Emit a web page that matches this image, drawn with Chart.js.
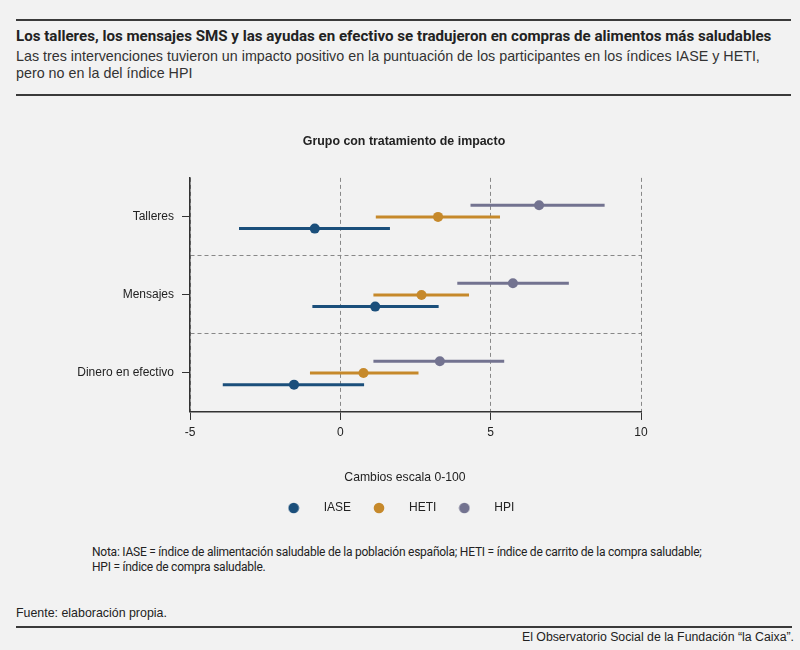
<!DOCTYPE html>
<html>
<head>
<meta charset="utf-8">
<script src="https://cdn.jsdelivr.net/npm/chart.js@4/dist/chart.umd.min.js"></script>
<style>
  html, body { margin:0; padding:0; background:#f2f2f2; }
  body { width:800px; height:650px; position:relative; overflow:hidden; font-family:"Liberation Sans", Arial, sans-serif; color:#222; }
  .rule { position:absolute; left:16px; width:775px; height:2px; background:#3a3a3a; }
  #title { position:absolute; left:16px; top:27px; font-family:Roboto,"Liberation Sans",sans-serif; font-weight:bold; font-size:14px; line-height:18px; white-space:nowrap; color:#222; transform-origin:0 0; }
  #subtitle { position:absolute; left:16px; top:48px; font-size:14.3px; line-height:17px; color:#333; white-space:nowrap; }
  #wrap { position:absolute; left:0; top:100px; width:800px; height:430px; }
  #note { position:absolute; left:92px; top:545px; font-family:Roboto,"Liberation Sans",sans-serif; font-size:12px; letter-spacing:-0.24px; line-height:15px; color:#222; white-space:nowrap; }
  #source { position:absolute; left:16px; top:606px; font-size:12.4px; color:#222; }
  #credit { position:absolute; right:6px; top:630px; font-size:12.3px; color:#222; }
</style>
</head>
<body>
<div class="rule" style="top:19px"></div>
<div id="title">Los talleres, los mensajes SMS y las ayudas en efectivo se tradujeron en compras de alimentos más saludables</div>
<div id="subtitle">Las tres intervenciones tuvieron un impacto positivo en la puntuación de los participantes en los índices IASE y HETI,<br>pero no en la del índice HPI</div>
<div class="rule" style="top:94px"></div>
<div id="wrap"><canvas id="c"></canvas></div>
<div id="note">Nota: IASE = índice de alimentación saludable de la población española; HETI = índice de carrito de la compra saludable;<br>HPI = índice de compra saludable.</div>
<div id="source">Fuente: elaboración propia.</div>
<div class="rule" style="top:626px; width:776px"></div>
<div id="credit">El Observatorio Social de la Fundación “la Caixa”.</div>
<script>
// ---- Data ----
const categories = ['Talleres', 'Mensajes', 'Dinero en efectivo'];
const seriesNames = ['IASE', 'HETI', 'HPI'];
const iaseEst  = [-0.85, 1.16, -1.54];
const iaseLow  = [-3.37, -0.93, -3.91];
const iaseHigh = [1.65, 3.27, 0.79];
const hetiEst  = [3.25, 2.70, 0.77];
const hetiLow  = [1.18, 1.10, -1.01];
const hetiHigh = [5.31, 4.28, 2.60];
const hpiEst   = [6.61, 5.74, 3.31];
const hpiLow   = [4.33, 3.89, 1.10];
const hpiHigh  = [8.79, 7.60, 5.45];
const xTickValues = [-5, 0, 5, 10];

// fit the condensed headline to the reference width
(function () {
  const t = document.getElementById('title');
  const w = t.scrollWidth;
  if (w > 0) t.style.transform = 'scaleX(' + (755 / w) + ')';
})();

// ---- Styles ----
const colors = ['#1b4f7b', '#c6892b', '#737390'];
const rowOffsets = [0.15, 0, -0.15];
const FONT = '"Liberation Sans", Arial, sans-serif';

const ests = [iaseEst, hetiEst, hpiEst];
const lows = [iaseLow, hetiLow, hpiLow];
const highs = [iaseHigh, hetiHigh, hpiHigh];

const datasets = seriesNames.map((name, s) => ({
  label: name,
  data: categories.map((c, i) => ({ x: ests[s][i], y: i + rowOffsets[s] })),
  low: lows[s],
  high: highs[s],
  backgroundColor: colors[s],
  borderColor: colors[s],
  pointRadius: 5,
  pointHoverRadius: 5,
  pointBorderWidth: 0,
  showLine: false
}));

function dotImage(color) {
  const cv = document.createElement('canvas');
  cv.width = 12; cv.height = 12;
  const g = cv.getContext('2d');
  g.fillStyle = color;
  g.beginPath(); g.arc(6, 6, 5.3, 0, Math.PI * 2); g.fill();
  return cv;
}

const errorBars = {
  id: 'errorBars',
  beforeDatasetsDraw(chart) {
    const { ctx, scales: { x, y } } = chart;
    chart.data.datasets.forEach((ds) => {
      ctx.save();
      ctx.strokeStyle = ds.borderColor;
      ctx.lineWidth = 3;
      ctx.lineCap = 'butt';
      ds.data.forEach((p, i) => {
        const py = y.getPixelForValue(p.y);
        ctx.beginPath();
        ctx.moveTo(x.getPixelForValue(ds.low[i]), py);
        ctx.lineTo(x.getPixelForValue(ds.high[i]), py);
        ctx.stroke();
      });
      ctx.restore();
    });
  }
};

// small horizontal nudges of the centred boxes
const nudge = {
  id: 'nudge',
  afterLayout(chart) {
    chart.boxes.forEach(b => {
      let dx = 0;
      if (b === chart.legend) dx = -8;
      else if (b.options && b.options.text === 'Grupo con tratamiento de impacto') dx = 4;
      else if (b.options && b.options.text === 'Cambios escala 0-100') dx = 5;
      if (dx) { b.left += dx; b.right += dx; }
    });
  }
};

new Chart(document.getElementById('c'), {
  type: 'scatter',
  data: { datasets },
  plugins: [errorBars, nudge],
  options: {
    responsive: true,
    maintainAspectRatio: false,
    animation: false,
    layout: { padding: { left: 0, right: 0, top: 0, bottom: 6 } },
    plugins: {
      tooltip: { enabled: false },
      title: {
        display: true,
        text: 'Grupo con tratamiento de impacto',
        color: '#222',
        font: { family: FONT, size: 12.4, weight: 'bold' },
        padding: { top: 34, bottom: 29 }
      },
      subtitle: {
        display: true,
        position: 'bottom',
        weight: 500,
        text: 'Cambios escala 0-100',
        color: '#222',
        font: { family: FONT, size: 12.2 },
        padding: { top: 24, bottom: 13 }
      },
      legend: {
        position: 'bottom',
        labels: {
          usePointStyle: true,
          pointStyleWidth: 48,
          padding: 4,
          color: '#222',
          font: { family: FONT, size: 12 },
          generateLabels(chart) {
            return chart.data.datasets.map((ds, i) => ({
              text: ds.label,
              fillStyle: ds.backgroundColor,
              strokeStyle: ds.backgroundColor,
              lineWidth: 0,
              pointStyle: dotImage(ds.backgroundColor),
              datasetIndex: i,
              hidden: false,
              fontColor: '#222'
            }));
          }
        }
      }
    },
    scales: {
      x: {
        type: 'linear',
        min: -5, max: 10,
        afterBuildTicks(scale) { scale.ticks = xTickValues.map(v => ({ value: v })); },
        ticks: { color: '#222', padding: 6, font: { family: FONT, size: 12 } },
        grid: { color: '#888', lineWidth: 1, tickColor: '#333', tickLength: 8, tickWidth: 1 },
        border: { display: true, color: '#333', width: 1.5, dash: [4, 3] }
      },
      y: {
        type: 'linear',
        reverse: true,
        min: -0.5, max: 2.5,
        afterBuildTicks(scale) { scale.ticks = [0, 0.5, 1, 1.5, 2].map(v => ({ value: v })); },
        afterFit(scale) { scale.width = 190; },
        ticks: {
          color: '#222',
          padding: 8,
          font: { family: FONT, size: 12 },
          callback: (v) => Number.isInteger(v) ? categories[v] : ''
        },
        grid: {
          color: (c) => (c.tick && !Number.isInteger(c.tick.value)) ? '#888' : 'rgba(0,0,0,0)',
          tickColor: (c) => (c.tick && Number.isInteger(c.tick.value)) ? '#333' : 'rgba(0,0,0,0)',
          tickLength: 8,
          lineWidth: 1
        },
        border: { display: true, color: '#333', width: 1.5, dash: [4, 3] }
      },
      yRight: {
        type: 'linear',
        position: 'right',
        display: true,
        afterFit(scale) { scale.width = 159; },
        ticks: { display: false },
        grid: { display: false, drawTicks: false },
        border: { display: false }
      }
    }
  }
});
</script>
</body>
</html>
